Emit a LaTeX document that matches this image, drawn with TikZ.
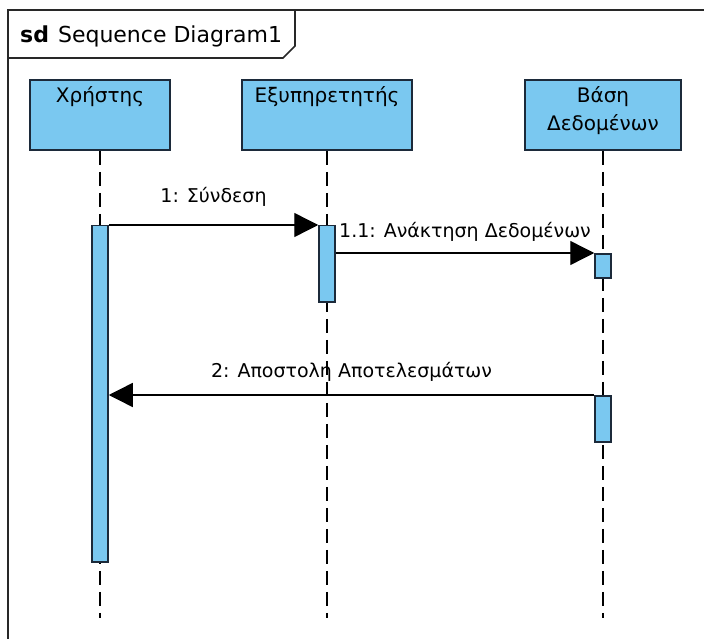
\documentclass[tikz,border=0pt]{standalone}
\usepackage{fontspec}
\setmainfont{DejaVu Sans}
\usetikzlibrary{arrows.meta}

\definecolor{actfill}{RGB}{122,200,240}
\definecolor{edgeblue}{RGB}{28,42,58}
\definecolor{framegray}{RGB}{40,40,40}

\begin{document}
\begin{tikzpicture}[x=1pt,y=-1pt,
  txt/.style={font=\fontsize{19}{28}\selectfont, inner sep=0pt, text=black},
  headtxt/.style={txt, font=\fontsize{20}{28}\selectfont},
  headbox/.style={draw=edgeblue, line width=1.7pt, fill=actfill, minimum height=70pt, inner sep=0pt},
  actbox/.style={draw=edgeblue, line width=1.5pt, fill=actfill, minimum width=16pt, inner sep=0pt},
  lifeline/.style={draw=black, line width=1.6pt, dash pattern=on 14pt off 7pt},
  msg/.style={draw=black, line width=1.4pt, -{Triangle[length=24pt,width=24pt]}},
  msglbl/.style={txt, midway, anchor=base}
]
% page and clipping window
\fill[white] (0,0) rectangle (704,639);
\clip (0,0) rectangle (704,639);

% diagram frame with its name tab
\draw[framegray, line width=1.6pt] (8,700) -- (8,10) -- (760,10);
\draw[framegray, line width=1.6pt] (8,58) -- (283,58) -- (295,46) -- (295,10);
\node[txt, anchor=base west, font=\fontsize{22}{26}\selectfont] (title) at (20,43)
  {\textbf{sd}\hspace{9pt}Sequence Diagram1};

% lifeline heads
\node[headbox, minimum width=140pt] (user) at (100,115) {};
\node[headbox, minimum width=170pt] (server) at (327,115) {};
\node[headbox, minimum width=156pt] (db) at (603,115) {};
\node[headtxt, anchor=north] (userT) at ([yshift=-7pt]user.north) {Χρήστης};
\node[headtxt, anchor=north] (serverT) at ([yshift=-7pt]server.north) {Εξυπηρετητής};
\node[headtxt, anchor=north, align=center] (dbT) at ([yshift=-7pt]db.north) {Βάση\\Δεδομένων};

% lifeline ends
\coordinate (userEnd) at (user.south |- 0,618);
\coordinate (serverEnd) at (server.south |- 0,618);
\coordinate (dbEnd) at (db.south |- 0,618);

% dashed lifelines
\draw[lifeline] (user.south) -- (userEnd);
\draw[lifeline] (server.south) -- (serverEnd);
\draw[lifeline] (db.south) -- (dbEnd);

% activation bars
\node[actbox, anchor=north, minimum height=336pt] (actUser) at (user.south |- 0,225) {};
\node[actbox, anchor=north, minimum height=76pt] (actServer) at (server.south |- 0,225) {};
\node[actbox, anchor=north, minimum height=24pt] (actDb1) at (db.south |- 0,253) {};
\node[actbox, anchor=north, minimum height=46pt] (actDb2) at (db.south |- 0,395) {};

% messages
\draw[msg] (actUser.north east) -- node[msglbl, yshift=22pt] (m1) {1: Σύνδεση} (actServer.north west);
\draw[msg] (actServer.east |- actDb1.north) -- node[msglbl, yshift=16pt] (m11) {1.1: Ανάκτηση Δεδομένων} (actDb1.north west);
\draw[msg] (actDb2.north west) -- node[msglbl, yshift=18pt] (m2) {2: Αποστολη Αποτελεσμάτων} (actDb2.north west -| actUser.east);
\end{tikzpicture}
\end{document}
